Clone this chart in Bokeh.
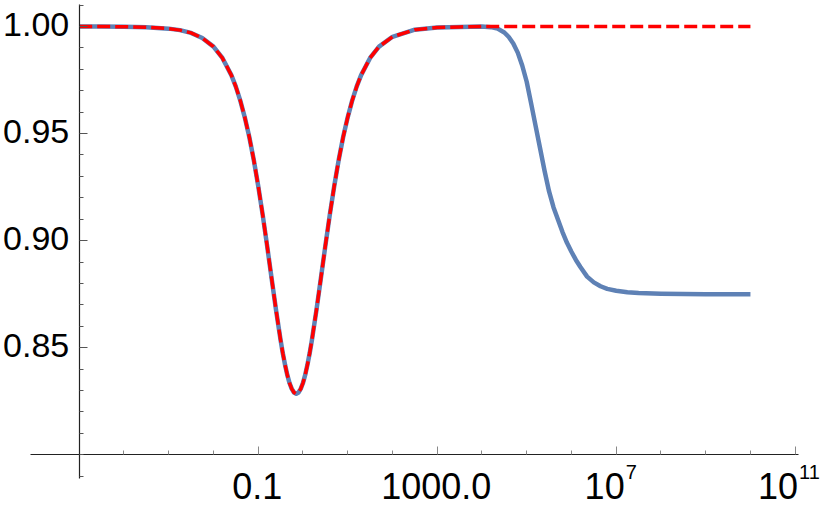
from bokeh.plotting import figure
from bokeh.models import LinearAxis, LogAxis, FixedTicker, Range1d, ColumnDataSource, Label
from bokeh.embed import file_html
from bokeh.resources import INLINE

# ---- data (x given as log10 of the x value) ----
dip_log_x = [-5.0, -4.5, -4.0, -3.5, -3.0, -2.75, -2.5, -2.25, -2.0, -1.8, -1.6, -1.5,
             -1.4, -1.3, -1.2, -1.1, -1.0, -0.9, -0.8, -0.7, -0.6, -0.5, -0.45, -0.4,
             -0.35, -0.3, -0.25, -0.2, -0.15, -0.1, -0.05, 0.0, 0.05, 0.1, 0.15, 0.2,
             0.3, 0.4, 0.5, 0.6, 0.7, 0.8, 0.9, 1.0, 1.1, 1.2, 1.3, 1.5, 1.7, 2.0, 2.5,
             3.0, 3.5, 4.0]
dip_y = [1.0000, 1.0000, 0.9999, 0.9997, 0.9990, 0.9983, 0.9970, 0.9946, 0.9906, 0.9853,
         0.9773, 0.9719, 0.9654, 0.9576, 0.9485, 0.9378, 0.9256, 0.9121, 0.8975, 0.8823,
         0.8674, 0.8536, 0.8474, 0.8420, 0.8373, 0.8335, 0.8308, 0.8291, 0.8285, 0.8291,
         0.8308, 0.8335, 0.8373, 0.8420, 0.8474, 0.8536, 0.8674, 0.8823, 0.8975, 0.9121,
         0.9256, 0.9378, 0.9485, 0.9576, 0.9654, 0.9719, 0.9773, 0.9853, 0.9906, 0.9952,
         0.9985, 0.9995, 0.9998, 1.0000]

# blue (solid) continues with a step down to 0.875
step_log_x = [4.2, 4.35, 4.5, 4.6, 4.7, 4.8, 4.9, 5.0, 5.1, 5.2, 5.3, 5.4, 5.5, 5.6, 5.7,
              5.8, 5.9, 6.0, 6.1, 6.2, 6.35, 6.5, 6.65, 6.8, 7.0, 7.25, 7.5, 8.0, 8.5,
              9.0, 10.0]
step_y = [0.9997, 0.9990, 0.9972, 0.9951, 0.9921, 0.9878, 0.9818, 0.9742, 0.9640, 0.9535,
          0.9430, 0.9325, 0.9230, 0.9155, 0.9098, 0.9040, 0.8990, 0.8948, 0.8910, 0.8877,
          0.8832, 0.8805, 0.8787, 0.8775, 0.8766, 0.8759, 0.8755, 0.8752, 0.8751, 0.8750,
          0.8750]

# red (dashed) stays at 1 after the dip
flat_log_x = [10.0]
flat_y = [1.0000]

x_major_exp = [-1, 3, 7, 11]
x_major_labels = ["0.1", "1000.0", "10", "10"]
x_major_sup = ["", "", "7", "11"]
x_minor_exp = [-5, -4, -3, -2, 0, 1, 2, 4, 5, 6, 8, 9, 10]
y_major_ticks = [0.85, 0.90, 0.95, 1.00]
y_major_labels = ["0.85", "0.90", "0.95", "1.00"]
y_minor_ticks = [0.79, 0.80, 0.81, 0.82, 0.83, 0.84, 0.86, 0.87, 0.88, 0.89, 0.91, 0.92,
                 0.93, 0.94, 0.96, 0.97, 0.98, 0.99, 1.01]

assert len(dip_log_x) == len(dip_y) and len(step_log_x) == len(step_y)

blue_src = ColumnDataSource(dict(x=[10.0 ** e for e in dip_log_x + step_log_x],
                                 y=dip_y + step_y))
red_src = ColumnDataSource(dict(x=[10.0 ** e for e in dip_log_x + flat_log_x],
                                y=dip_y + flat_y))

# frame covers the whole canvas; axes are drawn at the crossing point with bounds
p = figure(width=830, height=508, x_axis_type="log",
           x_range=Range1d(10 ** -6.7587, 10 ** 11.789),
           y_range=Range1d(0.774924, 1.01214),
           output_backend="svg", toolbar_location=None,
           x_axis_location=None, y_axis_location=None,
           min_border_left=0, min_border_right=0, min_border_top=0, min_border_bottom=0)
p.grid.visible = False
p.outline_line_color = None
p.background_fill_color = "white"
p.border_fill_color = "white"

p.line("x", "y", source=blue_src, line_color="#5E81B5", line_width=4.5, line_join="round")
p.line("x", "y", source=red_src, line_color="#FF0000", line_width=3.5, line_dash="13 5",
       line_join="round")

FONT = "Liberation Sans"
X_CROSS = 1e-5
Y_CROSS = 0.8

xt = [10.0 ** e for e in x_major_exp]
xaxis = LogAxis(fixed_location=Y_CROSS, bounds=(10 ** -6.0883, 10 ** 11.0737),
                ticker=FixedTicker(ticks=xt, minor_ticks=[10.0 ** e for e in x_minor_exp]))
xaxis.major_label_overrides = {t: "" for t in xt}
xaxis.axis_line_color = "#222222"
xaxis.axis_line_width = 1.2
xaxis.major_tick_in = 8
xaxis.major_tick_out = 0
xaxis.minor_tick_in = 4
xaxis.minor_tick_out = 0
xaxis.major_tick_line_color = "#888888"
xaxis.minor_tick_line_color = "#888888"
p.add_layout(xaxis, "below")

yaxis = LinearAxis(fixed_location=X_CROSS, bounds=(0.78893, 1.01027),
                   ticker=FixedTicker(ticks=y_major_ticks, minor_ticks=y_minor_ticks))
yaxis.major_label_overrides = {t: "" for t in y_major_ticks}
yaxis.axis_line_color = "#222222"
yaxis.axis_line_width = 1.2
yaxis.major_tick_in = 8
yaxis.major_tick_out = 0
yaxis.minor_tick_in = 4
yaxis.minor_tick_out = 0
yaxis.major_tick_line_color = "#555555"
yaxis.minor_tick_line_color = "#555555"
p.add_layout(yaxis, "left")

# tick labels as annotations
BASE_PX = 36
SUP_PX = 20
for t, lab, sup in zip(xt, x_major_labels, x_major_sup):
    if sup:
        w_base = 1.112 * BASE_PX
        w_sup = 0.556 * SUP_PX * len(sup)
        x0 = -(w_base + w_sup) / 2 - 6
        p.add_layout(Label(x=t, y=Y_CROSS, text=lab, x_offset=x0, y_offset=-31.4,
                           text_align="left", text_baseline="alphabetic",
                           text_font=FONT, text_font_size=f"{BASE_PX}px", text_color="black"))
        p.add_layout(Label(x=t, y=Y_CROSS, text=sup, x_offset=x0 + w_base + 1, y_offset=-16.9,
                           text_align="left", text_baseline="alphabetic",
                           text_font=FONT, text_font_size=f"{SUP_PX}px", text_color="black"))
    else:
        p.add_layout(Label(x=t, y=Y_CROSS, text=lab, x_offset=-1, y_offset=-31.4,
                           text_align="center", text_baseline="alphabetic",
                           text_font=FONT, text_font_size=f"{BASE_PX}px", text_color="black"))

for t, lab in zip(y_major_ticks, y_major_labels):
    p.add_layout(Label(x=X_CROSS, y=t, text=lab, x_offset=-10, y_offset=1.8,
                       text_align="right", text_baseline="alphabetic",
                       text_font=FONT, text_font_size="34px", text_color="black"))

open("out.html", "w").write(file_html(p, INLINE))
